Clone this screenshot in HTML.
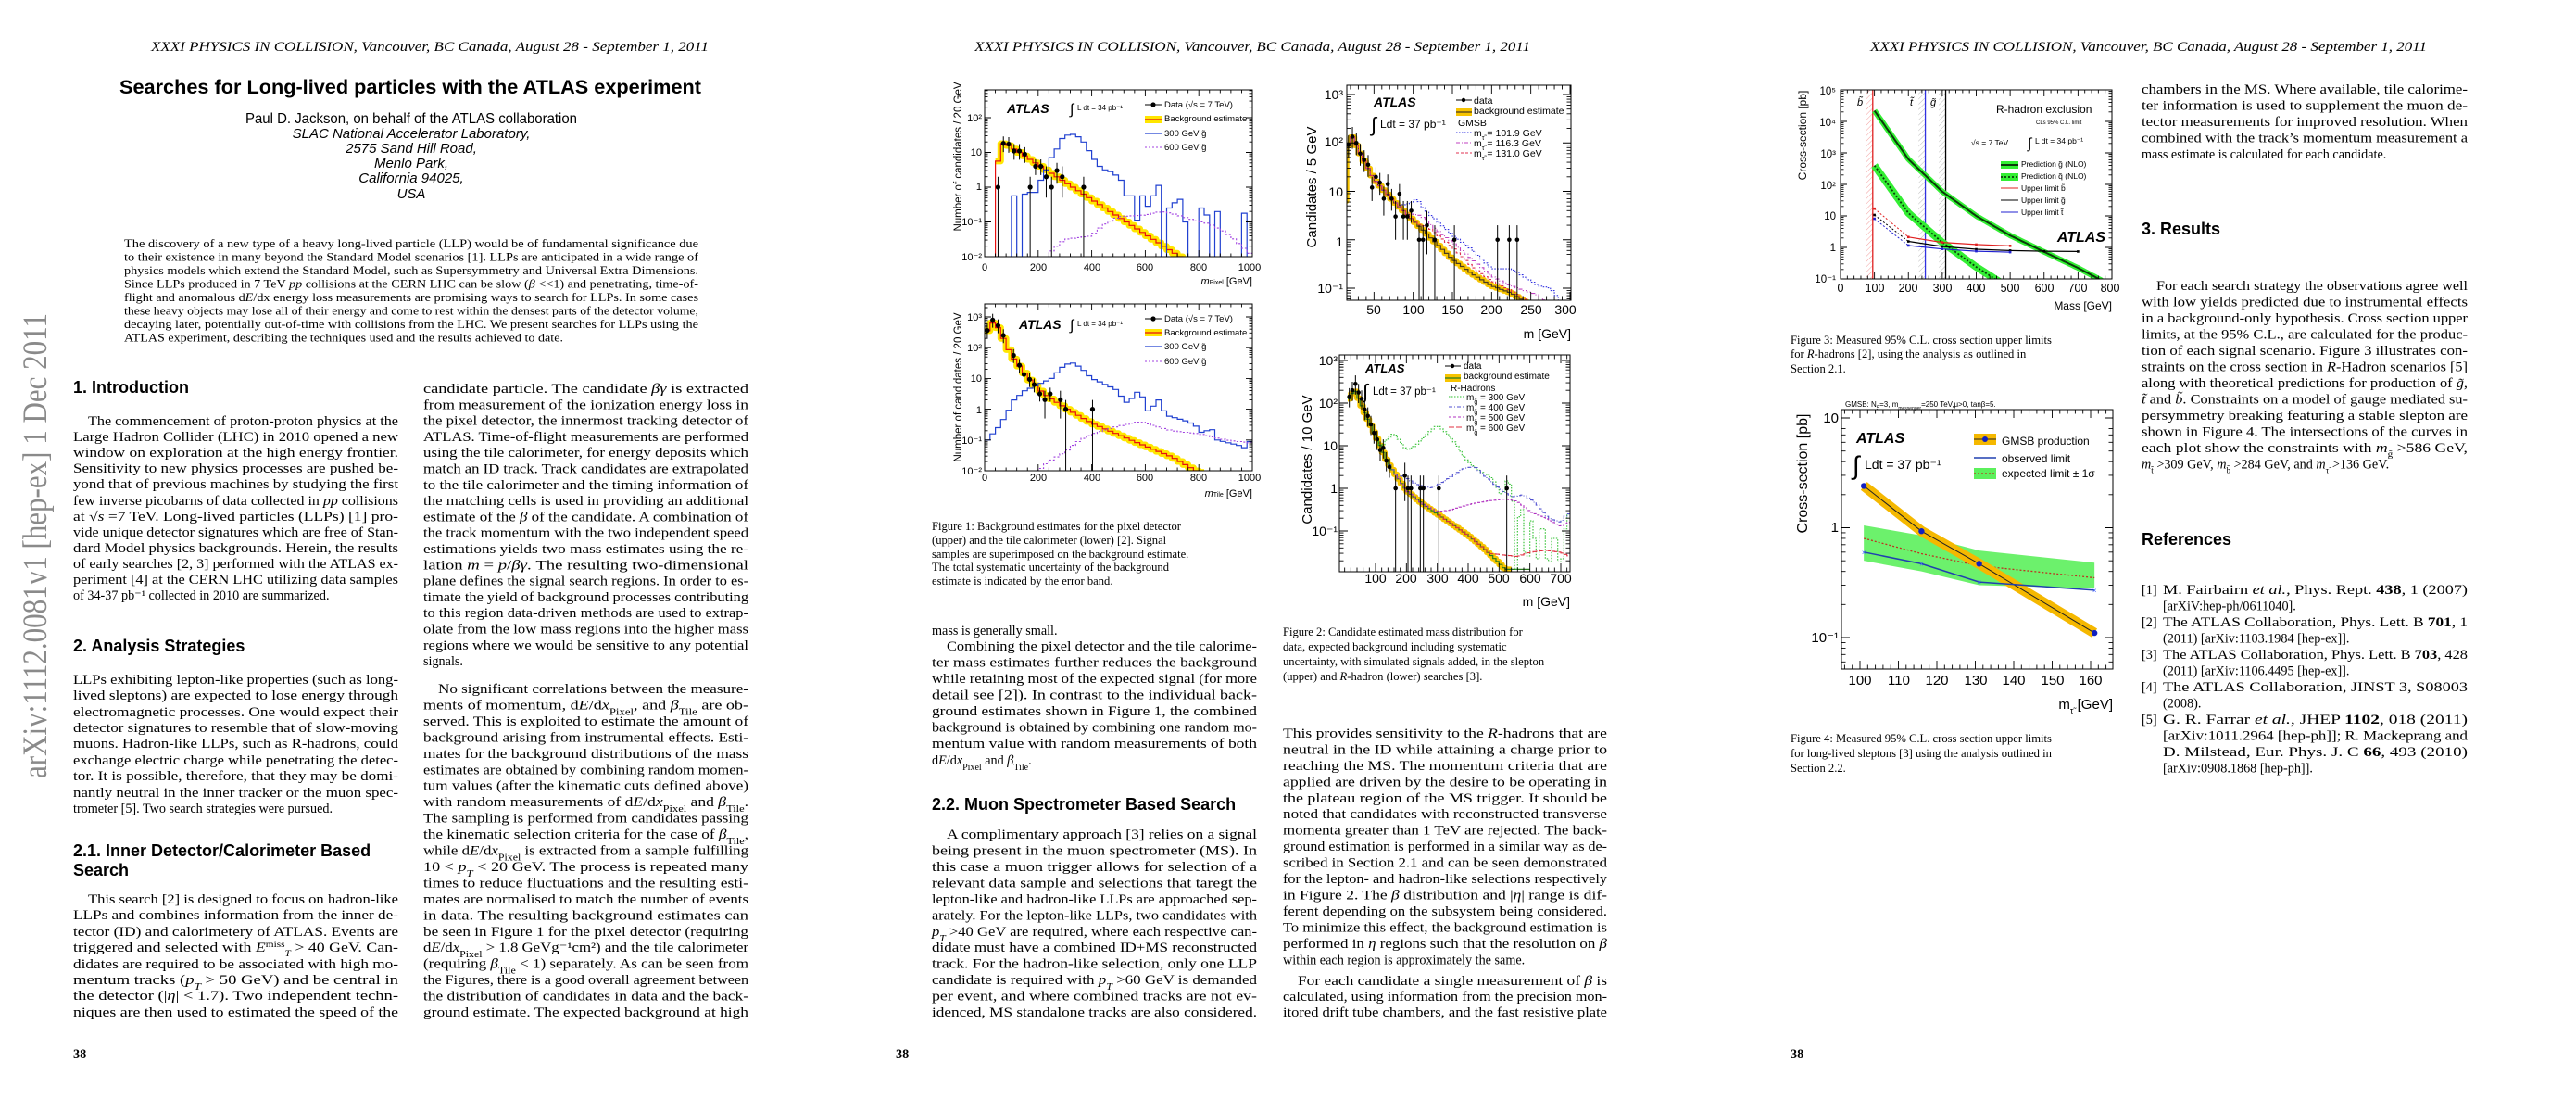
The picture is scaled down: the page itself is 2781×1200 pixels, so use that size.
<!DOCTYPE html>
<html><head><meta charset="utf-8"><style>
html,body{margin:0;padding:0;background:#fff;}
svg{display:block;}
.hd{font-family:"Liberation Serif",serif;font-style:italic;font-size:15px;}
.b{font-family:"Liberation Serif",serif;font-size:14.2px;}
.c{font-family:"Liberation Serif",serif;font-size:12.6px;}
.ab{font-family:"Liberation Serif",serif;font-size:12.4px;}
.h{font-family:"Liberation Sans",sans-serif;font-weight:bold;font-size:18px;}
.s{font-family:"Liberation Sans",sans-serif;}
.i{font-style:italic;}
.bo{font-weight:bold;}
</style></head><body>
<svg width="2781" height="1200" viewBox="0 0 2781 1200" xmlns="http://www.w3.org/2000/svg">
<rect width="2781" height="1200" fill="#fff"/>
<defs>
<clipPath id="c1"><rect x="1063" y="97" width="289" height="180"/></clipPath>
<clipPath id="c2"><rect x="1063" y="328" width="289" height="180"/></clipPath>
<clipPath id="c3"><rect x="1454" y="92" width="242" height="232"/></clipPath>
<clipPath id="c4"><rect x="1446" y="383" width="249" height="234"/></clipPath>
<clipPath id="c5"><rect x="1987" y="97" width="293" height="204"/></clipPath>
<clipPath id="c6"><rect x="1988" y="442" width="293" height="280"/></clipPath>
</defs>

<!-- ================= PAGE 1 ================= -->
<text class="hd" x="163" y="55" textLength="602" lengthAdjust="spacingAndGlyphs">XXXI PHYSICS IN COLLISION, Vancouver, BC Canada, August 28 - September 1, 2011</text>
<text class="s bo" x="129" y="101" font-size="21" textLength="628" lengthAdjust="spacingAndGlyphs">Searches for Long-lived particles with the ATLAS experiment</text>
<text class="s" x="265" y="133" font-size="16" textLength="358" lengthAdjust="spacingAndGlyphs">Paul D. Jackson, on behalf of the ATLAS collaboration</text>
<g class="s i" font-size="15" text-anchor="middle">
<text x="444" y="149">SLAC National Accelerator Laboratory,</text>
<text x="444" y="165">2575 Sand Hill Road,</text>
<text x="444" y="181">Menlo Park,</text>
<text x="444" y="197">California 94025,</text>
<text x="444" y="214">USA</text>
</g>
<g class="ab">
<text x="134" y="267" textLength="620" lengthAdjust="spacingAndGlyphs">The discovery of a new type of a heavy long-lived particle (LLP) would be of fundamental significance due</text>
<text x="134" y="281.5" textLength="620" lengthAdjust="spacingAndGlyphs">to their existence in many beyond the Standard Model scenarios [1]. LLPs are anticipated in a wide range of</text>
<text x="134" y="296" textLength="620" lengthAdjust="spacingAndGlyphs">physics models which extend the Standard Model, such as Supersymmetry and Universal Extra Dimensions.</text>
<text x="134" y="310.5" textLength="620" lengthAdjust="spacingAndGlyphs">Since LLPs produced in 7 TeV <tspan class="i">pp</tspan> collisions at the CERN LHC can be slow (<tspan class="i">β</tspan> &lt;&lt;1) and penetrating, time-of-</text>
<text x="134" y="325" textLength="620" lengthAdjust="spacingAndGlyphs">flight and anomalous d<tspan class="i">E</tspan>/dx energy loss measurements are promising ways to search for LLPs. In some cases</text>
<text x="134" y="339.5" textLength="620" lengthAdjust="spacingAndGlyphs">these heavy objects may lose all of their energy and come to rest within the densest parts of the detector volume,</text>
<text x="134" y="354" textLength="620" lengthAdjust="spacingAndGlyphs">decaying later, potentially out-of-time with collisions from the LHC. We present searches for LLPs using the</text>
<text x="134" y="368.5" textLength="474" lengthAdjust="spacingAndGlyphs">ATLAS experiment, describing the techniques used and the results achieved to date.</text>
</g>
<text transform="translate(50,840) rotate(-90)" font-family="Liberation Serif,serif" font-size="37" fill="#8a8a8a" textLength="502" lengthAdjust="spacingAndGlyphs">arXiv:1112.0081v1  [hep-ex]  1 Dec 2011</text>

<text class="h" x="79" y="424">1. Introduction</text>
<g class="b">
<text x="95" y="459" textLength="335" lengthAdjust="spacingAndGlyphs">The commencement of proton-proton physics at the</text>
<text x="79" y="476" textLength="351" lengthAdjust="spacingAndGlyphs">Large Hadron Collider (LHC) in 2010 opened a new</text>
<text x="79" y="493" textLength="351" lengthAdjust="spacingAndGlyphs">window on exploration at the high energy frontier.</text>
<text x="79" y="510" textLength="351" lengthAdjust="spacingAndGlyphs">Sensitivity to new physics processes are pushed be-</text>
<text x="79" y="527" textLength="351" lengthAdjust="spacingAndGlyphs">yond that of previous machines by studying the first</text>
<text x="79" y="545" textLength="351" lengthAdjust="spacingAndGlyphs">few inverse picobarns of data collected in <tspan class="i">pp</tspan> collisions</text>
<text x="79" y="562" textLength="351" lengthAdjust="spacingAndGlyphs">at √<tspan class="i">s</tspan> =7 TeV. Long-lived particles (LLPs) [1] pro-</text>
<text x="79" y="579" textLength="351" lengthAdjust="spacingAndGlyphs">vide unique detector signatures which are free of Stan-</text>
<text x="79" y="596" textLength="351" lengthAdjust="spacingAndGlyphs">dard Model physics backgrounds. Herein, the results</text>
<text x="79" y="613" textLength="351" lengthAdjust="spacingAndGlyphs">of early searches [2, 3] performed with the ATLAS ex-</text>
<text x="79" y="630" textLength="351" lengthAdjust="spacingAndGlyphs">periment [4] at the CERN LHC utilizing data samples</text>
<text x="79" y="647">of 34-37 pb⁻¹ collected in 2010 are summarized.</text>
</g>
<text class="h" x="79" y="703">2. Analysis Strategies</text>
<g class="b">
<text x="79" y="738" textLength="351" lengthAdjust="spacingAndGlyphs">LLPs exhibiting lepton-like properties (such as long-</text>
<text x="79" y="755" textLength="351" lengthAdjust="spacingAndGlyphs">lived sleptons) are expected to lose energy through</text>
<text x="79" y="773" textLength="351" lengthAdjust="spacingAndGlyphs">electromagnetic processes. One would expect their</text>
<text x="79" y="790" textLength="351" lengthAdjust="spacingAndGlyphs">detector signatures to resemble that of slow-moving</text>
<text x="79" y="807" textLength="351" lengthAdjust="spacingAndGlyphs">muons. Hadron-like LLPs, such as R-hadrons, could</text>
<text x="79" y="825" textLength="351" lengthAdjust="spacingAndGlyphs">exchange electric charge while penetrating the detec-</text>
<text x="79" y="842" textLength="351" lengthAdjust="spacingAndGlyphs">tor. It is possible, therefore, that they may be domi-</text>
<text x="79" y="860" textLength="351" lengthAdjust="spacingAndGlyphs">nantly neutral in the inner tracker or the muon spec-</text>
<text x="79" y="877">trometer [5]. Two search strategies were pursued.</text>
</g>
<text class="h" x="79" y="924">2.1. Inner Detector/Calorimeter Based</text>
<text class="h" x="79" y="945">Search</text>
<g class="b">
<text x="95" y="975" textLength="335" lengthAdjust="spacingAndGlyphs">This search [2] is designed to focus on hadron-like</text>
<text x="79" y="992" textLength="351" lengthAdjust="spacingAndGlyphs">LLPs and combines information from the inner de-</text>
<text x="79" y="1010" textLength="351" lengthAdjust="spacingAndGlyphs">tector (ID) and calorimetery of ATLAS. Events are</text>
<text x="79" y="1027" textLength="351" lengthAdjust="spacingAndGlyphs">triggered and selected with <tspan class="i">E</tspan><tspan font-size="9" baseline-shift="super">miss</tspan><tspan font-size="9" baseline-shift="sub" class="i">T</tspan> &gt; 40 GeV. Can-</text>
<text x="79" y="1045" textLength="351" lengthAdjust="spacingAndGlyphs">didates are required to be associated with high mo-</text>
<text x="79" y="1062" textLength="351" lengthAdjust="spacingAndGlyphs">mentum tracks (<tspan class="i">p<tspan font-size="10" baseline-shift="sub">T</tspan></tspan> &gt; 50 GeV) and be central in</text>
<text x="79" y="1079" textLength="351" lengthAdjust="spacingAndGlyphs">the detector (|<tspan class="i">η</tspan>| &lt; 1.7). Two independent techn-</text>
<text x="79" y="1097" textLength="351" lengthAdjust="spacingAndGlyphs">niques are then used to estimated the speed of the</text>
</g>
<g class="b">
<text x="457" y="424" textLength="351" lengthAdjust="spacingAndGlyphs">candidate particle. The candidate <tspan class="i">βγ</tspan> is extracted</text>
<text x="457" y="441.3" textLength="351" lengthAdjust="spacingAndGlyphs">from measurement of the ionization energy loss in</text>
<text x="457" y="458.6" textLength="351" lengthAdjust="spacingAndGlyphs">the pixel detector, the innermost tracking detector of</text>
<text x="457" y="475.9" textLength="351" lengthAdjust="spacingAndGlyphs">ATLAS. Time-of-flight measurements are performed</text>
<text x="457" y="493.2" textLength="351" lengthAdjust="spacingAndGlyphs">using the tile calorimeter, for energy deposits which</text>
<text x="457" y="510.5" textLength="351" lengthAdjust="spacingAndGlyphs">match an ID track. Track candidates are extrapolated</text>
<text x="457" y="527.8" textLength="351" lengthAdjust="spacingAndGlyphs">to the tile calorimeter and the timing information of</text>
<text x="457" y="545.1" textLength="351" lengthAdjust="spacingAndGlyphs">the matching cells is used in providing an additional</text>
<text x="457" y="562.4" textLength="351" lengthAdjust="spacingAndGlyphs">estimate of the <tspan class="i">β</tspan> of the candidate. A combination of</text>
<text x="457" y="579.7" textLength="351" lengthAdjust="spacingAndGlyphs">the track momentum with the two independent speed</text>
<text x="457" y="597" textLength="351" lengthAdjust="spacingAndGlyphs">estimations yields two mass estimates using the re-</text>
<text x="457" y="614.3" textLength="351" lengthAdjust="spacingAndGlyphs">lation <tspan class="i">m</tspan> = <tspan class="i">p</tspan>/<tspan class="i">βγ</tspan>. The resulting two-dimensional</text>
<text x="457" y="631.6" textLength="351" lengthAdjust="spacingAndGlyphs">plane defines the signal search regions. In order to es-</text>
<text x="457" y="648.9" textLength="351" lengthAdjust="spacingAndGlyphs">timate the yield of background processes contributing</text>
<text x="457" y="666.2" textLength="351" lengthAdjust="spacingAndGlyphs">to this region data-driven methods are used to extrap-</text>
<text x="457" y="683.5" textLength="351" lengthAdjust="spacingAndGlyphs">olate from the low mass regions into the higher mass</text>
<text x="457" y="700.8" textLength="351" lengthAdjust="spacingAndGlyphs">regions where we would be sensitive to any potential</text>
<text x="457" y="718.1">signals.</text>
<text x="473" y="748" textLength="335" lengthAdjust="spacingAndGlyphs">No significant correlations between the measure-</text>
<text x="457" y="765.5" textLength="351" lengthAdjust="spacingAndGlyphs">ments of momentum, d<tspan class="i">E</tspan>/d<tspan class="i">x</tspan><tspan font-size="10" baseline-shift="sub">Pixel</tspan>, and <tspan class="i">β</tspan><tspan font-size="10" baseline-shift="sub">Tile</tspan> are ob-</text>
<text x="457" y="782.9" textLength="351" lengthAdjust="spacingAndGlyphs">served. This is exploited to estimate the amount of</text>
<text x="457" y="800.4" textLength="351" lengthAdjust="spacingAndGlyphs">background arising from instrumental effects. Esti-</text>
<text x="457" y="817.8" textLength="351" lengthAdjust="spacingAndGlyphs">mates for the background distributions of the mass</text>
<text x="457" y="835.3" textLength="351" lengthAdjust="spacingAndGlyphs">estimates are obtained by combining random momen-</text>
<text x="457" y="852.7" textLength="351" lengthAdjust="spacingAndGlyphs">tum values (after the kinematic cuts defined above)</text>
<text x="457" y="870.2" textLength="351" lengthAdjust="spacingAndGlyphs">with random measurements of d<tspan class="i">E</tspan>/d<tspan class="i">x</tspan><tspan font-size="10" baseline-shift="sub">Pixel</tspan> and <tspan class="i">β</tspan><tspan font-size="10" baseline-shift="sub">Tile</tspan>.</text>
<text x="457" y="887.6" textLength="351" lengthAdjust="spacingAndGlyphs">The sampling is performed from candidates passing</text>
<text x="457" y="905.1" textLength="351" lengthAdjust="spacingAndGlyphs">the kinematic selection criteria for the case of <tspan class="i">β</tspan><tspan font-size="10" baseline-shift="sub">Tile</tspan>,</text>
<text x="457" y="922.5" textLength="351" lengthAdjust="spacingAndGlyphs">while d<tspan class="i">E</tspan>/d<tspan class="i">x</tspan><tspan font-size="10" baseline-shift="sub">Pixel</tspan> is extracted from a sample fulfilling</text>
<text x="457" y="940" textLength="351" lengthAdjust="spacingAndGlyphs">10 &lt; <tspan class="i">p<tspan font-size="10" baseline-shift="sub">T</tspan></tspan> &lt; 20 GeV. The process is repeated many</text>
<text x="457" y="957.4" textLength="351" lengthAdjust="spacingAndGlyphs">times to reduce fluctuations and the resulting esti-</text>
<text x="457" y="974.9" textLength="351" lengthAdjust="spacingAndGlyphs">mates are normalised to match the number of events</text>
<text x="457" y="992.3" textLength="351" lengthAdjust="spacingAndGlyphs">in data. The resulting background estimates can</text>
<text x="457" y="1009.8" textLength="351" lengthAdjust="spacingAndGlyphs">be seen in Figure 1 for the pixel detector (requiring</text>
<text x="457" y="1027.2" textLength="351" lengthAdjust="spacingAndGlyphs">d<tspan class="i">E</tspan>/d<tspan class="i">x</tspan><tspan font-size="10" baseline-shift="sub">Pixel</tspan> &gt; 1.8 GeVg⁻¹cm²) and the tile calorimeter</text>
<text x="457" y="1044.7" textLength="351" lengthAdjust="spacingAndGlyphs">(requiring <tspan class="i">β</tspan><tspan font-size="10" baseline-shift="sub">Tile</tspan> &lt; 1) separately. As can be seen from</text>
<text x="457" y="1062.1" textLength="351" lengthAdjust="spacingAndGlyphs">the Figures, there is a good overall agreement between</text>
<text x="457" y="1079.6" textLength="351" lengthAdjust="spacingAndGlyphs">the distribution of candidates in data and the back-</text>
<text x="457" y="1097" textLength="351" lengthAdjust="spacingAndGlyphs">ground estimate. The expected background at high</text>
</g>
<text class="b bo" x="79" y="1142">38</text>

<!-- ================= PAGE 2 ================= -->
<text class="hd" x="1052" y="55" textLength="600" lengthAdjust="spacingAndGlyphs">XXXI PHYSICS IN COLLISION, Vancouver, BC Canada, August 28 - September 1, 2011</text>

<g class="s" font-size="11">
<text transform="translate(1038,169) rotate(-90)" text-anchor="middle" font-size="11.5">Number of candidates / 20 GeV</text>
<g text-anchor="end"><text x="1060" y="131">10²</text><text x="1060" y="168">10</text><text x="1060" y="205">1</text><text x="1060" y="243">10⁻¹</text><text x="1060" y="281">10⁻²</text></g>
<g text-anchor="middle"><text x="1063" y="292">0</text><text x="1121" y="292">200</text><text x="1179" y="292">400</text><text x="1236" y="292">600</text><text x="1294" y="292">800</text><text x="1349" y="292">1000</text></g>
<text x="1352" y="307" text-anchor="end"><tspan class="i">m</tspan><tspan font-size="7">Pixel</tspan> [GeV]</text>
<text x="1087" y="122" font-size="14" font-weight="bold" font-style="italic">ATLAS</text>
<text x="1155" y="123" font-size="16">∫</text><text x="1163" y="119" font-size="8">L dt = 34 pb⁻¹</text>
<g font-size="9.5"><text x="1257" y="116">Data (√s = 7 TeV)</text><text x="1257" y="131">Background estimate</text><text x="1257" y="147">300 GeV g̃</text><text x="1257" y="162">600 GeV g̃</text></g>
</g>
<g class="s" font-size="11">
<text transform="translate(1038,418) rotate(-90)" text-anchor="middle" font-size="11.5">Number of candidates / 20 GeV</text>
<g text-anchor="end"><text x="1060" y="346">10³</text><text x="1060" y="379">10²</text><text x="1060" y="412">10</text><text x="1060" y="446">1</text><text x="1060" y="479">10⁻¹</text><text x="1060" y="512">10⁻²</text></g>
<g text-anchor="middle"><text x="1063" y="519">0</text><text x="1121" y="519">200</text><text x="1179" y="519">400</text><text x="1236" y="519">600</text><text x="1294" y="519">800</text><text x="1349" y="519">1000</text></g>
<text x="1352" y="536" text-anchor="end"><tspan class="i">m</tspan><tspan font-size="7">Tile</tspan> [GeV]</text>
<text x="1100" y="355" font-size="14" font-weight="bold" font-style="italic">ATLAS</text>
<text x="1155" y="356" font-size="16">∫</text><text x="1163" y="352" font-size="8">L dt = 34 pb⁻¹</text>
<g font-size="9.5"><text x="1257" y="347">Data (√s = 7 TeV)</text><text x="1257" y="362">Background estimate</text><text x="1257" y="377">300 GeV g̃</text><text x="1257" y="393">600 GeV g̃</text></g>
</g>
<g class="c">
<text x="1006" y="572">Figure 1: Background estimates for the pixel detector</text>
<text x="1006" y="587">(upper) and the tile calorimeter (lower) [2]. Signal</text>
<text x="1006" y="602">samples are superimposed on the background estimate.</text>
<text x="1006" y="616">The total systematic uncertainty of the background</text>
<text x="1006" y="631">estimate is indicated by the error band.</text>
</g>
<g class="s">
<text transform="translate(1421,202) rotate(-90)" text-anchor="middle" font-size="15">Candidates / 5 GeV</text>
<g text-anchor="end" font-size="14"><text x="1450" y="107">10³</text><text x="1450" y="158">10²</text><text x="1450" y="212">10</text><text x="1450" y="266">1</text><text x="1450" y="316">10⁻¹</text></g>
<g text-anchor="middle" font-size="14"><text x="1483" y="339">50</text><text x="1526" y="339">100</text><text x="1568" y="339">150</text><text x="1610" y="339">200</text><text x="1653" y="339">250</text><text x="1690" y="339">300</text></g>
<text x="1696" y="365" text-anchor="end" font-size="14">m [GeV]</text>
<text x="1483" y="115" font-size="14" font-weight="bold" font-style="italic">ATLAS</text>
<text x="1480" y="142" font-size="22">∫</text><text x="1490" y="138" font-size="12">Ldt = 37 pb⁻¹</text>
<g font-size="10.5"><text x="1591" y="112">data</text><text x="1591" y="123">background estimate</text><text x="1574" y="136">GMSB</text><text x="1591" y="147">m<tspan font-size="7" baseline-shift="sub">τ̃</tspan> = 101.9 GeV</text><text x="1591" y="158">m<tspan font-size="7" baseline-shift="sub">τ̃</tspan> = 116.3 GeV</text><text x="1591" y="169">m<tspan font-size="7" baseline-shift="sub">τ̃</tspan> = 131.0 GeV</text></g>
</g>
<g class="s">
<text transform="translate(1416,496) rotate(-90)" text-anchor="middle" font-size="15">Candidates / 10 GeV</text>
<g text-anchor="end" font-size="14"><text x="1444" y="394">10³</text><text x="1444" y="440">10²</text><text x="1444" y="486">10</text><text x="1444" y="532">1</text><text x="1444" y="578">10⁻¹</text></g>
<g text-anchor="middle" font-size="14"><text x="1485" y="629">100</text><text x="1518" y="629">200</text><text x="1552" y="629">300</text><text x="1585" y="629">400</text><text x="1618" y="629">500</text><text x="1652" y="629">600</text><text x="1685" y="629">700</text></g>
<text x="1695" y="654" text-anchor="end" font-size="14">m [GeV]</text>
<text x="1474" y="402" font-size="13" font-weight="bold" font-style="italic">ATLAS</text>
<text x="1471" y="430" font-size="22">∫</text><text x="1482" y="426" font-size="11.5">Ldt = 37 pb⁻¹</text>
<g font-size="10"><text x="1580" y="398">data</text><text x="1580" y="409">background estimate</text><text x="1566" y="422">R-Hadrons</text><text x="1583" y="432">m<tspan font-size="7" baseline-shift="sub">g̃</tspan> = 300 GeV</text><text x="1583" y="443">m<tspan font-size="7" baseline-shift="sub">g̃</tspan> = 400 GeV</text><text x="1583" y="454">m<tspan font-size="7" baseline-shift="sub">g̃</tspan> = 500 GeV</text><text x="1583" y="465">m<tspan font-size="7" baseline-shift="sub">g̃</tspan> = 600 GeV</text></g>
</g>
<g class="c">
<text x="1385" y="686">Figure 2: Candidate estimated mass distribution for</text>
<text x="1385" y="702">data, expected background including systematic</text>
<text x="1385" y="718">uncertainty, with simulated signals added, in the slepton</text>
<text x="1385" y="734">(upper) and <tspan class="i">R</tspan>-hadron (lower) searches [3].</text>
</g>
<g class="b">
<text x="1006" y="685">mass is generally small.</text>
<text x="1022" y="702" textLength="335" lengthAdjust="spacingAndGlyphs">Combining the pixel detector and the tile calorime-</text>
<text x="1006" y="719.5" textLength="351" lengthAdjust="spacingAndGlyphs">ter mass estimates further reduces the background</text>
<text x="1006" y="737" textLength="351" lengthAdjust="spacingAndGlyphs">while retaining most of the expected signal (for more</text>
<text x="1006" y="754.5" textLength="351" lengthAdjust="spacingAndGlyphs">detail see [2]). In contrast to the individual back-</text>
<text x="1006" y="772" textLength="351" lengthAdjust="spacingAndGlyphs">ground estimates shown in Figure 1, the combined</text>
<text x="1006" y="789.5" textLength="351" lengthAdjust="spacingAndGlyphs">background is obtained by combining one random mo-</text>
<text x="1006" y="807" textLength="351" lengthAdjust="spacingAndGlyphs">mentum value with random measurements of both</text>
<text x="1006" y="825">d<tspan class="i">E</tspan>/d<tspan class="i">x</tspan><tspan font-size="10" baseline-shift="sub">Pixel</tspan> and <tspan class="i">β</tspan><tspan font-size="10" baseline-shift="sub">Tile</tspan>.</text>
</g>
<text class="h" x="1006" y="874">2.2. Muon Spectrometer Based Search</text>
<g class="b">
<text x="1022" y="905" textLength="335" lengthAdjust="spacingAndGlyphs">A complimentary approach [3] relies on a signal</text>
<text x="1006" y="922.5" textLength="351" lengthAdjust="spacingAndGlyphs">being present in the muon spectrometer (MS). In</text>
<text x="1006" y="940" textLength="351" lengthAdjust="spacingAndGlyphs">this case a muon trigger allows for selection of a</text>
<text x="1006" y="957.4" textLength="351" lengthAdjust="spacingAndGlyphs">relevant data sample and selections that taregt the</text>
<text x="1006" y="974.9" textLength="351" lengthAdjust="spacingAndGlyphs">lepton-like and hadron-like LLPs are approached sep-</text>
<text x="1006" y="992.3" textLength="351" lengthAdjust="spacingAndGlyphs">arately. For the lepton-like LLPs, two candidates with</text>
<text x="1006" y="1009.8" textLength="351" lengthAdjust="spacingAndGlyphs"><tspan class="i">p<tspan font-size="10" baseline-shift="sub">T</tspan></tspan> &gt;40 GeV are required, where each respective can-</text>
<text x="1006" y="1027.2" textLength="351" lengthAdjust="spacingAndGlyphs">didate must have a combined ID+MS reconstructed</text>
<text x="1006" y="1044.7" textLength="351" lengthAdjust="spacingAndGlyphs">track. For the hadron-like selection, only one LLP</text>
<text x="1006" y="1062.1" textLength="351" lengthAdjust="spacingAndGlyphs">candidate is required with <tspan class="i">p<tspan font-size="10" baseline-shift="sub">T</tspan></tspan> &gt;60 GeV is demanded</text>
<text x="1006" y="1079.6" textLength="351" lengthAdjust="spacingAndGlyphs">per event, and where combined tracks are not ev-</text>
<text x="1006" y="1097" textLength="351" lengthAdjust="spacingAndGlyphs">idenced, MS standalone tracks are also considered.</text>
</g>
<g class="b">
<text x="1385" y="796" textLength="350" lengthAdjust="spacingAndGlyphs">This provides sensitivity to the <tspan class="i">R</tspan>-hadrons that are</text>
<text x="1385" y="813.4" textLength="350" lengthAdjust="spacingAndGlyphs">neutral in the ID while attaining a charge prior to</text>
<text x="1385" y="830.9" textLength="350" lengthAdjust="spacingAndGlyphs">reaching the MS. The momentum criteria that are</text>
<text x="1385" y="848.3" textLength="350" lengthAdjust="spacingAndGlyphs">applied are driven by the desire to be operating in</text>
<text x="1385" y="865.8" textLength="350" lengthAdjust="spacingAndGlyphs">the plateau region of the MS trigger. It should be</text>
<text x="1385" y="883.2" textLength="350" lengthAdjust="spacingAndGlyphs">noted that candidates with reconstructed transverse</text>
<text x="1385" y="900.7" textLength="350" lengthAdjust="spacingAndGlyphs">momenta greater than 1 TeV are rejected. The back-</text>
<text x="1385" y="918.1" textLength="350" lengthAdjust="spacingAndGlyphs">ground estimation is performed in a similar way as de-</text>
<text x="1385" y="935.6" textLength="350" lengthAdjust="spacingAndGlyphs">scribed in Section 2.1 and can be seen demonstrated</text>
<text x="1385" y="953" textLength="350" lengthAdjust="spacingAndGlyphs">for the lepton- and hadron-like selections respectively</text>
<text x="1385" y="970.5" textLength="350" lengthAdjust="spacingAndGlyphs">in Figure 2. The <tspan class="i">β</tspan> distribution and |<tspan class="i">η</tspan>| range is dif-</text>
<text x="1385" y="987.9" textLength="350" lengthAdjust="spacingAndGlyphs">ferent depending on the subsystem being considered.</text>
<text x="1385" y="1005.4" textLength="350" lengthAdjust="spacingAndGlyphs">To minimize this effect, the background estimation is</text>
<text x="1385" y="1022.8" textLength="350" lengthAdjust="spacingAndGlyphs">performed in <tspan class="i">η</tspan> regions such that the resolution on <tspan class="i">β</tspan></text>
<text x="1385" y="1040.3">within each region is approximately the same.</text>
<text x="1401" y="1063" textLength="334" lengthAdjust="spacingAndGlyphs">For each candidate a single measurement of <tspan class="i">β</tspan> is</text>
<text x="1385" y="1080" textLength="350" lengthAdjust="spacingAndGlyphs">calculated, using information from the precision mon-</text>
<text x="1385" y="1097" textLength="350" lengthAdjust="spacingAndGlyphs">itored drift tube chambers, and the fast resistive plate</text>
</g>
<text class="b bo" x="967" y="1142">38</text>

<!-- ================= PAGE 3 ================= -->
<text class="hd" x="2019" y="55" textLength="601" lengthAdjust="spacingAndGlyphs">XXXI PHYSICS IN COLLISION, Vancouver, BC Canada, August 28 - September 1, 2011</text>
<g class="s">
<text transform="translate(1950,146) rotate(-90)" text-anchor="middle" font-size="12">Cross-section [pb]</text>
<g text-anchor="end" font-size="11.5"><text x="1982" y="102">10⁵</text><text x="1982" y="136">10⁴</text><text x="1982" y="170">10³</text><text x="1982" y="204">10²</text><text x="1982" y="237">10</text><text x="1982" y="271">1</text><text x="1982" y="305">10⁻¹</text></g>
<g text-anchor="middle" font-size="12.5"><text x="1987" y="315">0</text><text x="2024" y="315">100</text><text x="2060" y="315">200</text><text x="2097" y="315">300</text><text x="2133" y="315">400</text><text x="2170" y="315">500</text><text x="2207" y="315">600</text><text x="2243" y="315">700</text><text x="2278" y="315">800</text></g>
<text x="2280" y="334" text-anchor="end" font-size="12">Mass [GeV]</text>
<g font-size="11" font-style="italic"><text x="2005" y="114">b̃</text><text x="2062" y="114">t̃</text><text x="2084" y="114">g̃</text></g>
<text x="2155" y="122" font-size="12">R-hadron exclusion</text>
<text x="2198" y="134" font-size="6">CLs 95% C.L. limit</text>
<text x="2128" y="157" font-size="8.5">√s = 7 TeV</text>
<text x="2189" y="160" font-size="16">∫</text><text x="2197" y="155" font-size="8.5">L dt = 34 pb⁻¹</text>
<g font-size="8.5"><text x="2182" y="180">Prediction g̃ (NLO)</text><text x="2182" y="193">Prediction q̃ (NLO)</text><text x="2182" y="206">Upper limit b̃</text><text x="2182" y="219">Upper limit g̃</text><text x="2182" y="232">Upper limit t̃</text></g>
<text x="2273" y="261" text-anchor="end" font-size="16" font-weight="bold" font-style="italic">ATLAS</text>
</g>
<g class="c">
<text x="1933" y="371">Figure 3: Measured 95% C.L. cross section upper limits</text>
<text x="1933" y="386">for <tspan class="i">R</tspan>-hadrons [2], using the analysis as outlined in</text>
<text x="1933" y="402">Section 2.1.</text>
</g>
<g class="s">
<text x="1992" y="439" font-size="8">GMSB: N<tspan font-size="6" baseline-shift="sub">5</tspan>=3, m<tspan font-size="5" baseline-shift="sub">messenger</tspan>=250 TeV,μ&gt;0, tanβ=5.</text>
<text transform="translate(1951,511) rotate(-90)" text-anchor="middle" font-size="16">Cross-section [pb]</text>
<g text-anchor="end" font-size="15"><text x="1985" y="456">10</text><text x="1985" y="574">1</text><text x="1985" y="693">10⁻¹</text></g>
<g text-anchor="middle" font-size="15"><text x="2008" y="739">100</text><text x="2050" y="739">110</text><text x="2091" y="739">120</text><text x="2133" y="739">130</text><text x="2174" y="739">140</text><text x="2216" y="739">150</text><text x="2257" y="739">160</text></g>
<text x="2281" y="765" text-anchor="end" font-size="15">m<tspan font-size="9" baseline-shift="sub">τ̃</tspan> [GeV]</text>
<text x="2004" y="478" font-size="16" font-weight="bold" font-style="italic">ATLAS</text>
<text x="2000" y="512" font-size="28">∫</text><text x="2013" y="506" font-size="14">Ldt = 37 pb⁻¹</text>
<g font-size="12"><text x="2161" y="480">GMSB production</text><text x="2161" y="499">observed limit</text><text x="2161" y="515">expected limit ± 1σ</text></g>
</g>
<g class="c">
<text x="1933" y="801">Figure 4: Measured 95% C.L. cross section upper limits</text>
<text x="1933" y="817">for long-lived sleptons [3] using the analysis outlined in</text>
<text x="1933" y="833">Section 2.2.</text>
</g>
<g class="b">
<text x="2312" y="101" textLength="352" lengthAdjust="spacingAndGlyphs">chambers in the MS. Where available, tile calorime-</text>
<text x="2312" y="118.5" textLength="352" lengthAdjust="spacingAndGlyphs">ter information is used to supplement the muon de-</text>
<text x="2312" y="136" textLength="352" lengthAdjust="spacingAndGlyphs">tector measurements for improved resolution. When</text>
<text x="2312" y="153.5" textLength="352" lengthAdjust="spacingAndGlyphs">combined with the track’s momentum measurement a</text>
<text x="2312" y="171">mass estimate is calculated for each candidate.</text>
</g>
<text class="h" x="2312" y="253">3. Results</text>
<g class="b">
<text x="2328" y="313" textLength="336" lengthAdjust="spacingAndGlyphs">For each search strategy the observations agree well</text>
<text x="2312" y="330.5" textLength="352" lengthAdjust="spacingAndGlyphs">with low yields predicted due to instrumental effects</text>
<text x="2312" y="348" textLength="352" lengthAdjust="spacingAndGlyphs">in a background-only hypothesis. Cross section upper</text>
<text x="2312" y="365.5" textLength="352" lengthAdjust="spacingAndGlyphs">limits, at the 95% C.L., are calculated for the produc-</text>
<text x="2312" y="383" textLength="352" lengthAdjust="spacingAndGlyphs">tion of each signal scenario. Figure 3 illustrates con-</text>
<text x="2312" y="400.5" textLength="352" lengthAdjust="spacingAndGlyphs">straints on the cross section in <tspan class="i">R</tspan>-Hadron scenarios [5]</text>
<text x="2312" y="418" textLength="352" lengthAdjust="spacingAndGlyphs">along with theoretical predictions for production of <tspan class="i">g̃</tspan>,</text>
<text x="2312" y="435.5" textLength="352" lengthAdjust="spacingAndGlyphs"><tspan class="i">t̃</tspan> and <tspan class="i">b̃</tspan>. Constraints on a model of gauge mediated su-</text>
<text x="2312" y="453" textLength="352" lengthAdjust="spacingAndGlyphs">persymmetry breaking featuring a stable slepton are</text>
<text x="2312" y="470.5" textLength="352" lengthAdjust="spacingAndGlyphs">shown in Figure 4. The intersections of the curves in</text>
<text x="2312" y="488" textLength="352" lengthAdjust="spacingAndGlyphs">each plot show the constraints with <tspan class="i">m</tspan><tspan font-size="9" baseline-shift="sub">g̃</tspan> &gt;586 GeV,</text>
<text x="2312" y="505.5"><tspan class="i">m</tspan><tspan font-size="9" baseline-shift="sub">t̃</tspan> &gt;309 GeV, <tspan class="i">m</tspan><tspan font-size="9" baseline-shift="sub">b̃</tspan> &gt;284 GeV, and <tspan class="i">m</tspan><tspan font-size="9" baseline-shift="sub">τ̃</tspan> &gt;136 GeV.</text>
</g>
<text class="h" x="2312" y="588">References</text>
<g class="b">
<text x="2312" y="641">[1]</text><text x="2335" y="641" textLength="329" lengthAdjust="spacingAndGlyphs">M. Fairbairn <tspan class="i">et al.</tspan>, Phys. Rept. <tspan class="bo">438</tspan>, 1 (2007)</text>
<text x="2335" y="658.5">[arXiV:hep-ph/0611040].</text>
<text x="2312" y="676">[2]</text><text x="2335" y="676" textLength="329" lengthAdjust="spacingAndGlyphs">The ATLAS Collaboration, Phys. Lett. B <tspan class="bo">701</tspan>, 1</text>
<text x="2335" y="693.5">(2011) [arXiv:1103.1984 [hep-ex]].</text>
<text x="2312" y="711">[3]</text><text x="2335" y="711" textLength="329" lengthAdjust="spacingAndGlyphs">The ATLAS Collaboration, Phys. Lett. B <tspan class="bo">703</tspan>, 428</text>
<text x="2335" y="728.5">(2011) [arXiv:1106.4495 [hep-ex]].</text>
<text x="2312" y="746">[4]</text><text x="2335" y="746" textLength="329" lengthAdjust="spacingAndGlyphs">The ATLAS Collaboration, JINST 3, S08003</text>
<text x="2335" y="763.5">(2008).</text>
<text x="2312" y="781">[5]</text><text x="2335" y="781" textLength="329" lengthAdjust="spacingAndGlyphs">G. R. Farrar <tspan class="i">et al.</tspan>, JHEP <tspan class="bo">1102</tspan>, 018 (2011)</text>
<text x="2335" y="798.5" textLength="329" lengthAdjust="spacingAndGlyphs">[arXiv:1011.2964 [hep-ph]]; R. Mackeprang and</text>
<text x="2335" y="816" textLength="329" lengthAdjust="spacingAndGlyphs">D. Milstead, Eur. Phys. J. C <tspan class="bo">66</tspan>, 493 (2010)</text>
<text x="2335" y="833.5">[arXiv:0908.1868 [hep-ph]].</text>
</g>
<text class="b bo" x="1933" y="1142">38</text>

<g id="plots"></g>
</svg>
<script>
(function(){
let s='';
const L=Math.log10;
function lin(a,b,A,B){return v=>A+(v-a)*(B-A)/(b-a);}
function lg(a,b,A,B){return v=>A+(v-a)*(B-A)/(b-a);}
function P(pts,st){s+='<path d="M'+pts.map(p=>p[0].toFixed(1)+','+p[1].toFixed(1)).join('L')+'" fill="none" '+st+'/>';}
function interp(tab,x){if(x<=tab[0][0])return tab[0][1];for(let i=1;i<tab.length;i++){if(x<=tab[i][0]){let a=tab[i-1],b=tab[i];return a[1]+(b[1]-a[1])*(x-a[0])/(b[0]-a[0]);}}return tab[tab.length-1][1];}
function hist(X,Y,x0,w,logs,st,floor){let pts=[];for(let i=0;i<logs.length;i++){let y=Y(Math.max(logs[i],floor));pts.push([X(x0+i*w),y],[X(x0+(i+1)*w),y]);}P(pts,st);}
function histF(X,Y,x0,x1,w,f,st,floor){let a=[];for(let x=x0;x<x1;x+=w)a.push(f(x+w/2));hist(X,Y,x0,w,a,st,floor);}
function frame(x0,y0,x1,y1){s+=`<rect x="${x0}" y="${y0}" width="${x1-x0}" height="${y1-y0}" fill="none" stroke="#000" stroke-width="1"/>`;}
function ticks(x0,y0,x1,y1,X,xmaj,xmin,Y,dmin,dmax,ml,nl){
 let d='';
 xmaj.forEach(v=>{let x=X(v);if(x<x0||x>x1)return;d+=`M${x},${y1}v${-ml}M${x},${y0}v${ml}`;});
 xmin.forEach(v=>{let x=X(v);if(x<x0||x>x1)return;d+=`M${x},${y1}v${-nl}M${x},${y0}v${nl}`;});
 for(let e=dmin;e<=dmax;e++){for(let k=1;k<10;k++){let y=Y(e+L(k));if(y<y0-0.1||y>y1+0.1)continue;let l=k==1?ml:nl;d+=`M${x0},${y}h${l}M${x1},${y}h${-l}`;}}
 s+=`<path d="${d}" stroke="#000" stroke-width="0.9" fill="none"/>`;
}
function rng(a,b,st){let r=[];for(let v=a;v<=b+1e-9;v+=st)r.push(v);return r;}
function pts(X,Y,arr,r,col,floor){arr.forEach(p=>{let x=X(p[0]);let lo=p.length>2?p[2]:p[1]-0.25,hi=p.length>3?p[3]:p[1]+0.2;s+=`<line x1="${x}" x2="${x}" y1="${Y(Math.max(lo,floor))}" y2="${Y(hi)}" stroke="${col}" stroke-width="1"/>`;s+=`<circle cx="${x}" cy="${Y(p[1])}" r="${r}" fill="${col}"/>`;});}
function band(X,Y,x0,x1,w,f,col,width){let a=[];for(let x=x0;x<x1;x+=w)a.push(f(x+w/2));let p=[];for(let i=0;i<a.length;i++){let y=Y(a[i]);p.push([X(x0+i*w),y],[X(x0+(i+1)*w),y]);}P(p,`stroke="${col}" stroke-width="${width}" stroke-linejoin="round"`);}

{let X=lin(0,1000,1063,1352),Y=lg(-2,2,277,127);
s+='<g clip-path="url(#c1)">';
let bg=x=>x<40?-3:x<60?0.75:x<80?1.25:1.25-(x-80)*3.25/650;
band(X,Y,40,1000,20,bg,'#ffe600',7);
hist(X,Y,0,20,[-3,-3,0.75,1.25].concat(rng(90,990,20).map(bg)),'stroke="#e81010" stroke-width="1.2"',-2.2);
let blue=[-3,-3,-3,-3,-3,-0.25,-3,-0.2,-0.15,-0.15,0.2,0.5,0.85,1.1,1.4,1.5,1.52,1.45,1.3,1.05,0.8,0.6,0.5,0.45,0.35,0.2,-0.25,-0.25,-0.95,-0.25,-0.55,-0.25,0.05,-3,-0.6,-0.45,-0.35,-1,-3,-3,-0.6,-0.8,-3,-0.7,-3,-3,-3,-3,-0.75,-3];
hist(X,Y,0,20,blue,'stroke="#2040d0" stroke-width="1.2"',-2.2);
let pur=[[200,-2.6],[220,-2.2],[240,-1.9],[300,-1.5],[400,-1.4],[440,-1.1],[500,-0.85],[600,-0.8],[660,-0.7],[700,-0.75],[780,-0.95],[840,-1.05],[900,-1.3],[940,-1.55],[990,-1.9]];
histF(X,Y,180,1000,20,x=>interp(pur,x),'stroke="#a040e0" stroke-width="1.1" stroke-dasharray="2,2"',-2.2);
pts(X,Y,[[50,0,-3,0.3],[70,1.26],[90,1.24],[110,1.04],[130,1.04],[150,0.95],[170,0,-3,0.3],[190,0.6],[210,0.6],[230,0.3,-0.3,0.6],[250,0,-3,0.3],[270,0.48,0.1,0.7],[290,0.3,-0.3,0.6],[370,0,-3,0.3]],2.6,'#000',-2.2);
s+='</g>';
frame(1063,97,1352,277);ticks(1063,97,1352,277,X,rng(0,1000,200),rng(0,1000,40),Y,-2,2,7,3.5);
s+=`<rect x="1236" y="125" width="18" height="8" fill="#ffe600"/><line x1="1236" x2="1254" y1="129" y2="129" stroke="#e81010" stroke-width="1.2"/>`;
s+=`<line x1="1236" x2="1254" y1="113" y2="113" stroke="#000"/><circle cx="1245" cy="113" r="2.6"/>`;
s+=`<line x1="1236" x2="1254" y1="144" y2="144" stroke="#2040d0" stroke-width="1.2"/><line x1="1236" x2="1254" y1="159" y2="159" stroke="#a040e0" stroke-dasharray="2,2"/>`;
}
{let X=lin(0,1000,1063,1352),Y=lg(-2,3,508,342);
s+='<g clip-path="url(#c2)">';
let bgt=[[10,2.55],[30,2.8],[50,2.65],[70,2.3],[100,1.75],[130,1.4],[170,0.95],[220,0.5],[310,0],[400,-0.45],[560,-1.05],[700,-1.55],[800,-2.05]];
let bg=x=>interp(bgt,x);
band(X,Y,0,820,20,bg,'#ffe600',7);
histF(X,Y,0,1000,20,bg,'stroke="#e81010" stroke-width="1.2"',-2.2);
let bl=[[10,-1],[50,-0.6],[80,-0.2],[110,0.3],[150,0.6],[200,0.8],[250,1.0],[300,1.45],[330,1.5],[360,1.35],[400,1.0],[440,0.85],[500,0.6],[520,0.25],[540,0.2],[560,0.5],[580,0.6],[600,0.2],[620,-0.3],[640,0.5],[660,0.1],[680,-0.2],[760,-0.4],[800,-0.6],[820,-0.9],[840,-0.5],[870,-1],[960,-1.2],[980,-1.3],[1000,-0.8]];
histF(X,Y,0,1000,20,x=>interp(bl,x),'stroke="#2040d0" stroke-width="1.2"',-2.2);
let pr=[[190,-2.3],[200,-2],[240,-1.7],[300,-1.4],[340,-1.1],[380,-0.9],[420,-0.75],[500,-0.55],[580,-0.4],[620,-0.5],[700,-0.7],[800,-0.8],[900,-1],[1000,-1.1]];
histF(X,Y,180,1000,20,x=>interp(pr,x),'stroke="#a040e0" stroke-width="1.1" stroke-dasharray="2,2"',-2.2);
pts(X,Y,[[10,2.56],[30,2.9],[50,2.72],[70,2.4],[108,1.75],[130,1.43],[147,1.13],[168,0.97],[185,0.8],[206,0.5],[225,0.31,-0.3,0.6],[245,0.5],[283,0.31,-0.3,0.6],[303,0,-3,0.3],[403,0,-3,0.3]],2.6,'#000',-2.2);
s+='</g>';
frame(1063,328,1352,508);ticks(1063,328,1352,508,X,rng(0,1000,200),rng(0,1000,40),Y,-2,3,7,3.5);
s+=`<rect x="1236" y="355" width="18" height="8" fill="#ffe600"/><line x1="1236" x2="1254" y1="359" y2="359" stroke="#e81010" stroke-width="1.2"/>`;
s+=`<line x1="1236" x2="1254" y1="344" y2="344" stroke="#000"/><circle cx="1245" cy="344" r="2.6"/>`;
s+=`<line x1="1236" x2="1254" y1="374" y2="374" stroke="#2040d0" stroke-width="1.2"/><line x1="1236" x2="1254" y1="390" y2="390" stroke="#a040e0" stroke-dasharray="2,2"/>`;
}
{let X=lin(0,300,1441,1695),Y=lg(-1,3,311,102);
s+='<g clip-path="url(#c3)">';
let bgt=[[12.5,0.8],[17.5,1.95],[22.5,2.12],[27.5,1.95],[35,1.7],[50,1.25],[75,0.8],[100,0.4],[125,0],[150,-0.4],[175,-0.7],[200,-0.95],[225,-1.1],[250,-1.35]];
let bg=x=>interp(bgt,x);
band(X,Y,10,260,5,bg,'#f7c400',6);
histF(X,Y,10,300,5,bg,'stroke="#4a3a20" stroke-width="1.2"',-1.4);
let b1=[[80,0.7],[95,0.75],[105,0.85],[115,0.6],[130,0.4],[150,0.1],[175,-0.2],[200,-0.6],[225,-0.6],[240,-0.75],[260,-0.95],[275,-1.0],[290,-1.3],[300,-1.4]];
histF(X,Y,10,300,5,x=>Math.max(bg(x),interp(b1,x)),'stroke="#3030e0" stroke-width="1.1" stroke-dasharray="1.5,1.5"',-1.4);
let b2=[[90,0.55],[110,0.5],[130,0.2],[150,-0.05],[175,-0.4],[200,-0.75],[225,-0.95],[260,-1.15],[280,-1.4]];
histF(X,Y,10,290,5,x=>Math.max(bg(x),interp(b2,x)),'stroke="#c040c0" stroke-width="1.1" stroke-dasharray="4,2,1,2"',-1.4);
let b3=[[100,0.35],[120,0.25],[150,-0.15],[175,-0.55],[200,-0.85],[225,-1.05],[250,-1.3],[270,-1.5]];
histF(X,Y,10,280,5,x=>Math.max(bg(x),interp(b3,x)),'stroke="#e03050" stroke-width="1.1" stroke-dasharray="3,2"',-1.4);
pts(X,Y,[[12.5,0.6,0.2,0.9],[17.5,1.96],[22.5,2.13],[27.5,2.0],[32.5,1.78],[37.5,1.65],[42.5,1.55],[47.5,1.08,0.8,1.3],[52.5,1.3],[57.5,1.18],[62.5,0.85,0.5,1.1],[67.5,1.15],[72.5,0.85],[77.5,0.48,0,0.8],[82.5,0.95],[87.5,0.48,0,0.8],[92.5,0.48,0,0.8],[97.5,0.6],[107.5,0,-3,0.3],[112.5,0,-3,0.3],[117.5,0.3,-0.3,0.6],[127.5,0,-3,0.3],[152.5,0,-3,0.3],[207.5,0,-3,0.3],[222.5,0,-3,0.3],[232.5,0,-3,0.3]],2.3,'#000',-1.4);
s+='</g>';
frame(1454,92,1696,324);ticks(1454,92,1696,324,X,rng(50,300,50),rng(10,300,10),Y,-2,3,9,4.5);
s+=`<rect x="1572" y="117" width="17" height="8" fill="#f7c400"/><line x1="1572" x2="1589" y1="121" y2="121" stroke="#4a3a20" stroke-width="1.2"/>`;
s+=`<line x1="1572" x2="1589" y1="108" y2="108" stroke="#000"/><circle cx="1580" cy="108" r="2.2"/>`;
s+=`<line x1="1572" x2="1589" y1="143" y2="143" stroke="#3030e0" stroke-dasharray="1.5,1.5"/><line x1="1572" x2="1589" y1="154" y2="154" stroke="#c040c0" stroke-dasharray="4,2,1,2"/><line x1="1572" x2="1589" y1="165" y2="165" stroke="#e03050" stroke-dasharray="3,2"/>`;
}
{let X=lin(100,700,1485,1685),Y=lg(-1,3,573,389);
s+='<g clip-path="url(#c4)">';
let bgt=[[20,2.1],[30,2.35],[40,2.2],[60,1.85],[100,1.25],[140,0.6],[200,-0.05],[250,-0.35],[300,-0.6],[350,-0.85],[400,-1.1],[450,-1.4],[500,-1.75],[520,-1.9]];
let bg=x=>interp(bgt,x);
band(X,Y,10,540,10,bg,'#f7c400',6);
histF(X,Y,10,600,10,bg,'stroke="#2a7a20" stroke-width="1.2"',-1.9);
let g=[[110,0.8],[130,1.1],[160,1.3],[200,0.9],[230,1.0],[270,1.3],[300,1.48],[330,1.3],[360,1.05],[390,0.7],[420,0.5],[450,0.35],[470,0.3],[490,0.1],[510,-0.2],[530,0.3],[545,-0.3],[555,-2],[570,0.0],[590,-2],[610,-0.35],[620,-2],[640,-0.6],[660,-2],[680,-0.9],[700,-2],[720,-0.6]];
histF(X,Y,100,730,10,x=>Math.max(bg(x),interp(g,x)),'stroke="#30c030" stroke-width="1.1" stroke-dasharray="1.5,1.5"',-1.95);
let bl=[[150,0.2],[190,0.3],[230,0.1],[280,0],[330,0.2],[380,0.45],[420,0.52],[460,0.25],[500,0],[540,-0.2],[580,-0.15],[620,-0.35],[660,-0.7],[700,-0.8],[720,-0.6]];
histF(X,Y,140,730,10,x=>Math.max(bg(x),interp(bl,x)),'stroke="#5050d0" stroke-width="1.1" stroke-dasharray="4,2,1,2"',-1.95);
let pu=[[170,-0.05],[200,-0.13],[250,-0.35],[300,-0.55],[350,-0.5],[400,-0.38],[460,-0.3],[520,-0.25],[560,-0.3],[600,-0.55],[650,-0.7],[700,-0.9],[720,-0.8]];
histF(X,Y,160,730,10,x=>Math.max(bg(x),interp(pu,x)),'stroke="#b030c0" stroke-width="1.1" stroke-dasharray="3,2"',-1.95);
let rd=[[300,-0.7],[400,-1.3],[430,-1.5],[500,-1.55],[560,-1.6],[600,-1.5],[650,-1.45],[700,-1.5],[730,-1.6]];
histF(X,Y,300,730,10,x=>Math.max(bg(x),interp(rd,x)),'stroke="#e03040" stroke-width="1.1" stroke-dasharray="6,2"',-1.95);
pts(X,Y,[[15,2.15],[25,2.3],[35,2.45],[45,2.25],[55,2.1],[65,1.85],[75,1.7],[85,1.5],[95,1.3],[105,1.15],[115,0.9],[125,0.95],[135,0.65],[145,0.5],[165,0,-3,0.3],[195,0.3,-0.3,0.6],[205,0,-3,0.3],[215,0,-3,0.3],[245,0,-3,0.3],[255,0,-3,0.3],[305,0,-3,0.3],[525,0,-3,0.3]],2.3,'#000',-1.95);
s+='</g>';
frame(1446,383,1695,617);ticks(1446,383,1695,617,X,rng(100,700,100),rng(0,730,20),Y,-2,3,9,4.5);
s+=`<rect x="1560" y="404" width="17" height="8" fill="#f7c400"/><line x1="1560" x2="1577" y1="408" y2="408" stroke="#2a7a20" stroke-width="1.2"/>`;
s+=`<line x1="1560" x2="1577" y1="395" y2="395" stroke="#000"/><circle cx="1568" cy="395" r="2.2"/>`;
s+=`<line x1="1564" x2="1581" y1="428" y2="428" stroke="#30c030" stroke-dasharray="1.5,1.5"/><line x1="1564" x2="1581" y1="439" y2="439" stroke="#5050d0" stroke-dasharray="4,2,1,2"/><line x1="1564" x2="1581" y1="450" y2="450" stroke="#b030c0" stroke-dasharray="3,2"/><line x1="1564" x2="1581" y1="461" y2="461" stroke="#e03040" stroke-dasharray="6,2"/>`;
}
{let X=lin(0,800,1987,2280),Y=lg(-1,5,301,97);
s+='<g clip-path="url(#c5)">';
s+='<defs><pattern id="ht" width="4" height="4" patternUnits="userSpaceOnUse" patternTransform="rotate(45)"><line x1="0" y1="0" x2="0" y2="4" stroke="#bbb" stroke-width="1"/></pattern><pattern id="hr" width="4" height="4" patternUnits="userSpaceOnUse" patternTransform="rotate(45)"><line x1="0" y1="0" x2="0" y2="4" stroke="#f3a0a0" stroke-width="1"/></pattern></defs>';
s+=`<rect x="${X(75)}" y="97" width="${X(95)-X(75)}" height="204" fill="url(#hr)"/><rect x="${X(230)}" y="97" width="${X(250)-X(230)}" height="204" fill="url(#ht)"/><rect x="${X(290)}" y="97" width="${X(310)-X(290)}" height="204" fill="url(#ht)"/>`;
s+=`<line x1="${X(95)}" x2="${X(95)}" y1="97" y2="301" stroke="#e02020" stroke-width="1.3"/><line x1="${X(250)}" x2="${X(250)}" y1="97" y2="301" stroke="#3030e0" stroke-width="1.3"/><line x1="${X(310)}" x2="${X(310)}" y1="97" y2="301" stroke="#000" stroke-width="1.3"/>`;
let gl=[[100,4.34],[200,2.8],[300,1.77],[400,1.0],[500,0.38],[600,-0.14],[700,-0.65],[770,-1.05]];
let sq=[[100,2.6],[200,1.09],[300,0.16],[400,-0.62],[470,-1.1]];
function curve(tab,st){let p=[];for(let x=tab[0][0];x<=tab[tab.length-1][0];x+=5)p.push([X(x),Y(interp(tab,x))]);P(p,st);}
curve(gl,'stroke="#33ee33" stroke-width="6"');curve(gl,'stroke="#0a3a0a" stroke-width="2"');
curve(sq,'stroke="#33ee33" stroke-width="8"');curve(sq,'stroke="#0a3a0a" stroke-width="1.8" stroke-dasharray="2,2"');
function lim(tab,col){P([[X(tab[0][0]),Y(tab[0][1])],[X(tab[1][0]),Y(tab[1][1])]],`stroke="${col}" stroke-width="1" stroke-dasharray="2,2"`);P(tab.slice(1).map(p=>[X(p[0]),Y(p[1])]),`stroke="${col}" stroke-width="1.2"`);tab.forEach(p=>{s+=`<rect x="${X(p[0])-1.3}" y="${Y(p[1])-1.3}" width="2.6" height="2.6" fill="${col}"/>`;});}
lim([[100,1.23],[200,0.33],[300,0.16],[400,0.09],[500,0.05]],'#e02020');
lim([[100,1.03],[200,0.19],[300,0.03],[400,-0.06],[500,-0.1],[600,-0.12],[700,-0.13]],'#000');
lim([[100,0.91],[200,0.06],[300,-0.05],[400,-0.12],[500,-0.15]],'#2020d0');
s+='</g>';
frame(1987,97,2280,301);ticks(1987,97,2280,301,X,rng(0,800,100),rng(0,800,20),Y,-1,5,7,3.5);
s+=`<rect x="2160" y="174" width="19" height="8" fill="#33ee33"/><line x1="2160" x2="2179" y1="178" y2="178" stroke="#0a3a0a" stroke-width="2"/>`;
s+=`<rect x="2160" y="187" width="19" height="8" fill="#33ee33"/><line x1="2160" x2="2179" y1="191" y2="191" stroke="#0a3a0a" stroke-width="1.8" stroke-dasharray="2,2"/>`;
s+=`<line x1="2160" x2="2179" y1="203" y2="203" stroke="#e02020"/><line x1="2160" x2="2179" y1="216" y2="216" stroke="#000"/><line x1="2160" x2="2179" y1="229" y2="229" stroke="#2020d0"/>`;
}
{let X=lin(100,160,2008,2257),Y=lg(-1,1,688,451);
s+='<g clip-path="url(#c6)">';
let up=[[101,L(1.05)],[116,L(0.85)],[131,L(0.62)],[161,L(0.48)]],dn=[[101,L(0.5)],[116,L(0.4)],[131,L(0.3)],[161,L(0.28)]];
let poly=up.map(p=>[X(p[0]),Y(p[1])]).concat(dn.slice().reverse().map(p=>[X(p[0]),Y(p[1])]));
s+=`<polygon points="${poly.map(p=>p.join(',')).join(' ')}" fill="#5cf05c" opacity="0.9"/>`;
P([[101,L(0.8)],[116,L(0.58)],[131,L(0.45)],[161,L(0.35)]].map(p=>[X(p[0]),Y(p[1])]),'stroke="#c03020" stroke-width="1.3" stroke-dasharray="2,2"');
let gm=[[101,L(2.4)],[116,L(0.93)],[131,L(0.47)],[161,L(0.11)]];
let gp=gm.map(p=>[X(p[0]),Y(p[1])]);
P(gp,'stroke="#f5b800" stroke-width="11" stroke-linejoin="round"');
P(gp,'stroke="#222" stroke-width="1"');
let ob=[[101,L(0.6)],[116,L(0.47)],[131,L(0.32)],[161,L(0.27)]].map(p=>[X(p[0]),Y(p[1])]);
P(ob,'stroke="#2040b0" stroke-width="1.5"');
ob.forEach(p=>{s+=`<text x="${p[0]}" y="${p[1]+3}" font-size="8" fill="#4060ff" text-anchor="middle" font-family="Liberation Sans">×</text>`;});
gp.forEach(p=>{s+=`<circle cx="${p[0]}" cy="${p[1]}" r="3.2" fill="#1020c0"/>`;});
s+='</g>';
frame(1988,442,2281,722);ticks(1988,442,2281,722,X,rng(100,160,10),rng(96,164,2),Y,-2,1,9,4.5);
s+=`<rect x="2131" y="468" width="24" height="12" fill="#f5b800"/><line x1="2131" x2="2155" y1="474" y2="474" stroke="#222"/><circle cx="2143" cy="474" r="3" fill="#1020c0"/>`;
s+=`<line x1="2131" x2="2155" y1="494" y2="494" stroke="#2040b0" stroke-width="1.5"/>`;
s+=`<rect x="2131" y="505" width="24" height="12" fill="#5cf05c"/><line x1="2131" x2="2155" y1="511" y2="511" stroke="#c03020" stroke-width="1.3" stroke-dasharray="2,2"/>`;
}
document.getElementById('plots').innerHTML=s;
})();
</script>
</body></html>
